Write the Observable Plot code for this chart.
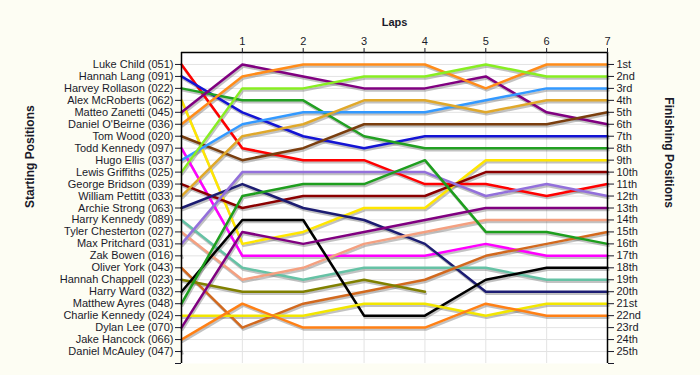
<!DOCTYPE html>
<html>
<head>
<meta charset="utf-8">
<script src="https://cdn.jsdelivr.net/npm/d3@7"></script>
<script src="https://cdn.jsdelivr.net/npm/@observablehq/plot@0.6"></script>
<style>
  html, body { margin: 0; padding: 0; background: #fdfdf3; }
  svg { display: block; }
</style>
</head>
<body>
<div id="chart"></div>
<script>
const laps = [0, 1, 2, 3, 4, 5, 6, 7];

const starters = [
  "Luke Child (051)", "Hannah Lang (091)", "Harvey Rollason (022)", "Alex McRoberts (062)",
  "Matteo Zanetti (045)", "Daniel O'Beirne (036)", "Tom Wood (020)", "Todd Kennedy (097)",
  "Hugo Ellis (037)", "Lewis Griffiths (025)", "George Bridson (039)", "William Pettitt (033)",
  "Archie Strong (063)", "Harry Kennedy (089)", "Tyler Chesterton (027)", "Max Pritchard (031)",
  "Zak Bowen (016)", "Oliver York (043)", "Hannah Chappell (023)", "Harry Ward (032)",
  "Matthew Ayres (048)", "Charlie Kennedy (024)", "Dylan Lee (070)", "Jake Hancock (066)",
  "Daniel McAuley (047)"
];

const finishLabels = [
  "1st", "2nd", "3rd", "4th", "5th", "6th", "7th", "8th", "9th", "10th",
  "11th", "12th", "13th", "14th", "15th", "16th", "17th", "18th", "19th", "20th",
  "21st", "22nd", "23rd", "24th", "25th"
];

// position of each driver at laps 0..7 (null = not running)
const positions = [
  [1, 8, 9, 9, 11, 11, 12, 11],
  [2, 5, 7, 8, 7, 7, 7, 7],
  [3, 4, 4, 7, 8, 8, 8, 8],
  [4, 16, 15, 13, 13, 9, 9, 9],
  [5, 1, 2, 3, 3, 2, 5, 6],
  [6, 2, 1, 1, 1, 3, 1, 1],
  [7, 9, 8, 6, 6, 6, 6, 5],
  [8, 17, 17, 17, 17, 16, 17, 17],
  [9, 6, 5, 5, 5, 4, 3, 3],
  [10, 3, 3, 2, 2, 1, 2, 2],
  [11, 13, 12, 12, 12, 10, 10, 10],
  [12, 7, 6, 4, 4, 5, 4, 4],
  [13, 11, 13, 14, 16, 20, 20, 20],
  [14, 18, 19, 18, 18, 18, 19, 19],
  [15, 19, 18, 16, 15, 14, 14, 14],
  [16, 10, 10, 10, 10, 12, 11, 12],
  [17, null, null, null, null, null, null, null],
  [18, 23, 21, 20, 19, 17, 16, 15],
  [19, 20, 20, 19, 20, null, null, null],
  [20, 14, 14, 22, 22, 19, 18, 18],
  [21, 12, 11, 11, 9, 15, 15, 16],
  [22, 22, 22, 21, 21, 22, 21, 21],
  [23, 15, 16, 15, 14, 13, 13, 13],
  [24, 21, 23, 23, 23, 21, 22, 22],
  [25, null, null, null, null, null, null, null]
];

const lineColors = [
  "#ff0000", "#1414d4", "#22a022", "#ffe600", "#800080", "#ff8c1a", "#7a3e0e", "#ff00ff",
  "#3399ff", "#88ee22", "#8b0000", "#e0a82a", "#1c1c72", "#66c2a5", "#f4a080", "#9370db",
  "#999999", "#d2691e", "#808000", "#000000", "#1e9e1e", "#f2e600", "#800080", "#ff8015",
  "#999999"
];

const rows = [];
positions.forEach((p, i) => {
  p.forEach((v, j) => {
    if (v != null) rows.push({driver: starters[i], lap: laps[j], pos: v, color: lineColors[i]});
  });
});

const posTicks = d3.range(1, starters.length + 1);
const grid = "#e3e3e3";

const chart = Plot.plot({
  width: 700,
  height: 375,
  marginLeft: 181,
  marginRight: 93,
  marginTop: 52,
  marginBottom: 12,
  style: {background: "#fdfdf3", fontFamily: "'Liberation Sans', Arial, sans-serif", fontSize: "11px", color: "#1a1a2a"},
  x: {domain: [0, 7]},
  y: {domain: [0, 26], reverse: true},
  color: {type: "identity"},
  marks: [
    Plot.frame({fill: "white", stroke: null}),
    Plot.ruleY(posTicks, {x1: 0, x2: 7, stroke: grid}),
    Plot.ruleX(laps.slice(1), {y1: 0, y2: 26, stroke: grid}),
    Plot.line(rows, {x: "lap", y: "pos", z: "driver", stroke: "#666", strokeOpacity: 0.4, strokeWidth: 2.5, dx: 1, dy: 2}),
    Plot.line(rows, {x: "lap", y: "pos", z: "driver", stroke: d => d.color, strokeWidth: 2.5}),
    Plot.ruleX([0, 7], {y1: 0, y2: 26, stroke: "#000", strokeWidth: 1.5}),
    Plot.ruleY([0], {x1: 0, x2: 7, stroke: "#000", strokeWidth: 1.5}),
    Plot.axisX(laps.slice(1), {anchor: "top", tickSize: 5, tickPadding: 3, label: null, fontSize: 11}),
    Plot.axisY(posTicks, {anchor: "left", tickSize: 6, tickPadding: 2, label: null, tickFormat: d => starters[d - 1], fontSize: 11}),
    Plot.axisY(posTicks, {anchor: "right", tickSize: 6, tickPadding: 3, label: null, tickFormat: d => finishLabels[d - 1], fontSize: 11}),
    Plot.axisY([26], {anchor: "left", tickSize: 6, label: null, tickFormat: () => ""}),
    Plot.axisY([26], {anchor: "right", tickSize: 6, label: null, tickFormat: () => ""}),
    Plot.text(["Laps"], {frameAnchor: "top", dy: -34, fontWeight: "bold", fontSize: 11}),
    Plot.text(["Starting Positions"], {frameAnchor: "left", dx: -151, rotate: -90, fontWeight: "bold", fontSize: 12}),
    Plot.text(["Finishing Positions"], {frameAnchor: "right", dx: 61, rotate: 90, fontWeight: "bold", fontSize: 12})
  ]
});

document.getElementById("chart").appendChild(chart);
</script>
</body>
</html>
